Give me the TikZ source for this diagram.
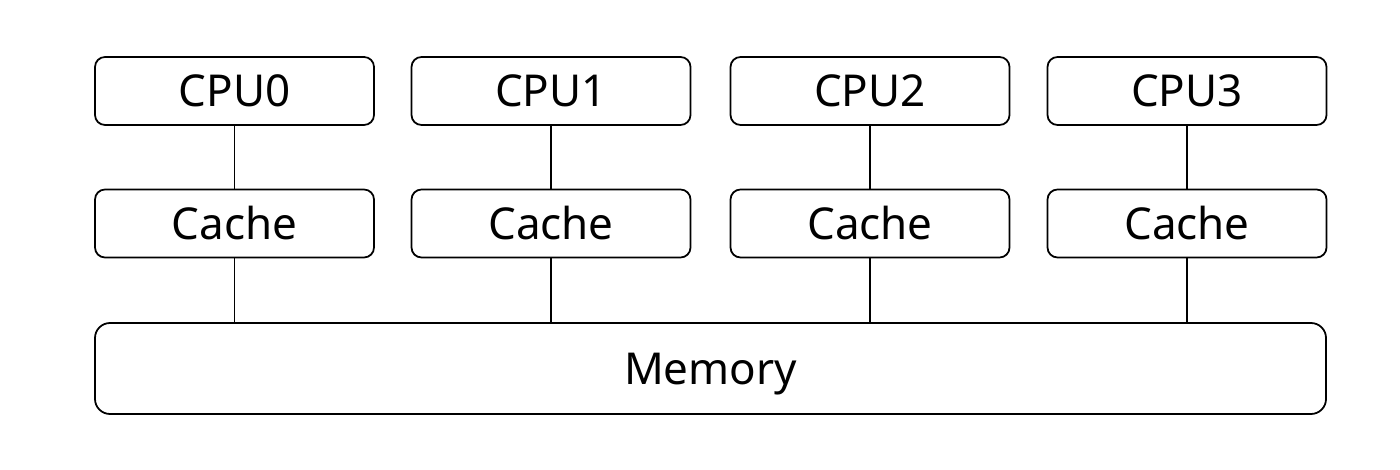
\documentclass[tikz,border=0pt]{standalone}
\usepackage{fontspec}
\setmainfont{Noto Sans}
\usetikzlibrary{positioning}

\begin{document}
\begin{tikzpicture}[line width=1pt,
    every node/.style={font=\fontsize{25}{30}\selectfont, text height=0.63cm, text depth=0pt},
    unit/.style={draw, rounded corners=0.2cm, minimum width=5.58cm, minimum height=1.36cm, inner sep=0pt},
    membox/.style={draw, rounded corners=0.3cm, minimum width=24.62cm, minimum height=1.82cm, inner sep=0pt}]
      \useasboundingbox (0,0) rectangle (28,9.38);
      \node[membox] (mem) at (14.21,2.01) {Memory};
      \foreach \i/\x in {0/4.69,1/11.02,2/17.40,3/23.74} {
        \node[unit] (cpu\i) at (\x,7.56) {CPU\i};
        \node[unit] (cache\i) at (\x,4.91) {Cache};
        \draw (cpu\i) -- (cache\i);
        \draw (cache\i) -- (cache\i |- mem.north);
      }
    \end{tikzpicture}
\end{document}
